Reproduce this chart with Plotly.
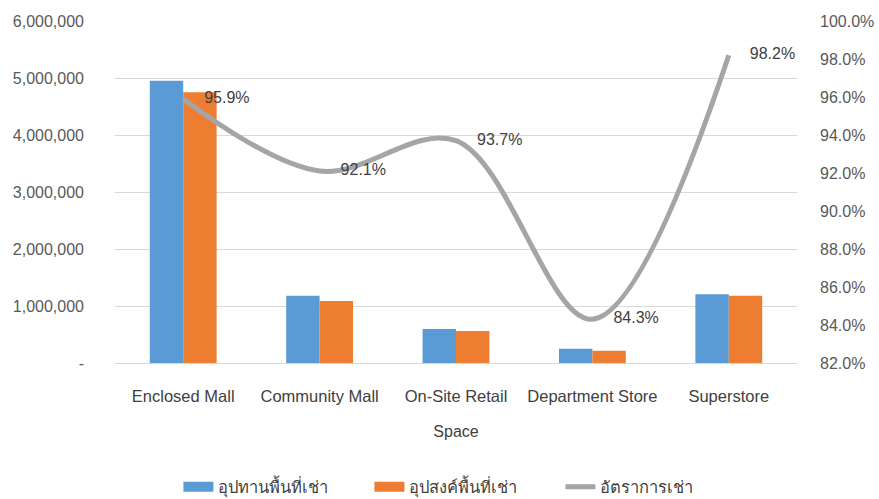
import plotly.graph_objects as go

categories = ["Enclosed Mall", "Community Mall", "On-Site Retail", "Department Store", "Superstore"]
supply = [4950000, 1180000, 595000, 250000, 1205000]
demand = [4750000, 1088000, 560000, 215000, 1180000]
occupancy = [95.9, 92.1, 93.7, 84.3, 98.2]
occ_labels = ["95.9%", "92.1%", "93.7%", "84.3%", "98.2%"]
series_names = ["อุปทานพื้นที่เช่า", "อุปสงค์พื้นที่เช่า", "อัตราการเช่า"]

left_ticks = [0, 1000000, 2000000, 3000000, 4000000, 5000000, 6000000]
left_ticktext = ["-", "1,000,000", "2,000,000", "3,000,000", "4,000,000", "5,000,000", "6,000,000"]
right_ticks = [82, 84, 86, 88, 90, 92, 94, 96, 98, 100]
right_ticktext = ["82.0%", "84.0%", "86.0%", "88.0%", "90.0%", "92.0%", "94.0%", "96.0%", "98.0%", "100.0%"]

font_family = "Liberation Sans, Arial, Noto Sans, sans-serif"
tick_color = "#595959"
text_color = "#404040"
blue, orange, gray = "#5B9BD5", "#ED7D31", "#A5A5A5"

fig = go.Figure()
fig.add_trace(go.Bar(x=categories, y=supply, name=series_names[0], legendgroup="s",
                     showlegend=False, marker=dict(color=blue, line=dict(width=0))))
fig.add_trace(go.Bar(x=categories, y=demand, name=series_names[1], legendgroup="d",
                     showlegend=False, marker=dict(color=orange, line=dict(width=0))))
fig.add_trace(go.Scatter(x=categories, y=occupancy, name=series_names[2], yaxis="y2",
                         mode="lines+markers+text", text=occ_labels, textposition="middle right",
                         textfont=dict(size=16, color=text_color, family=font_family),
                         marker=dict(size=32, color="rgba(0,0,0,0)", line=dict(width=0)),
                         line=dict(color=gray, width=5, shape="spline", smoothing=1.0),
                         cliponaxis=False, showlegend=False, legendgroup="o"))

# legend-only entries (wide rectangular swatches like the original)
fig.add_trace(go.Scatter(x=[None], y=[None], name=series_names[0], legendgroup="s",
                         mode="lines", line=dict(color=blue, width=16)))
fig.add_trace(go.Scatter(x=[None], y=[None], name=series_names[1], legendgroup="d",
                         mode="lines", line=dict(color=orange, width=16)))
fig.add_trace(go.Scatter(x=[None], y=[None], name=series_names[2], legendgroup="o",
                         mode="lines", line=dict(color=gray, width=5)))

fig.update_layout(
    width=879, height=499,
    margin=dict(l=115, r=82, t=21, b=136),
    plot_bgcolor="white", paper_bgcolor="white",
    font=dict(family=font_family, size=16, color=tick_color),
    barmode="group", bargap=0.51, bargroupgap=0,
    xaxis=dict(title=dict(text="Space", font=dict(size=16, color=text_color), standoff=22),
               tickfont=dict(size=16.5, color=text_color), showgrid=False, automargin=False,
               showline=True, linecolor="#D9D9D9", linewidth=1, ticks="", ticklabelstandoff=18),
    yaxis=dict(range=[0, 6000000], tickvals=left_ticks, ticktext=left_ticktext, automargin=False,
               showgrid=True, gridcolor="#D9D9D9", gridwidth=1, zeroline=False,
               tickfont=dict(size=16, color=tick_color), ticklabelstandoff=30),
    yaxis2=dict(range=[82, 100], tickvals=right_ticks, ticktext=right_ticktext, automargin=False,
                overlaying="y", side="right", showgrid=False, zeroline=False,
                tickfont=dict(size=16, color=tick_color), ticklabelstandoff=22),
    legend=dict(orientation="h", x=0.203, xanchor="left", xref="container",
                y=0.024, yref="container", yanchor="middle",
                font=dict(size=16.5, color=text_color), traceorder="normal",
                entrywidth=146, entrywidthmode="pixels"),
    showlegend=True,
)

fig.write_html("out.html", config={"displayModeBar": False},
               post_script="document.body.style.margin='0';")
